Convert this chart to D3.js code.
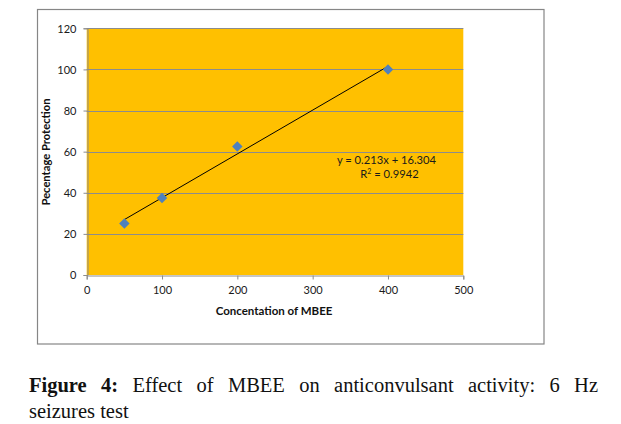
<!DOCTYPE html>
<html>
<head>
<meta charset="utf-8">
<script src="https://cdn.jsdelivr.net/npm/d3@7"></script>
<style>
  html, body { margin: 0; padding: 0; background: #fff; }
  #wrap { position: relative; width: 621px; height: 424px; }
  svg { position: absolute; left: 0; top: 0; }
  .cap {
    position: absolute; left: 29px; width: 569px;
    font-family: "Liberation Serif", "DejaVu Serif", serif;
    font-size: 20.5px; line-height: 20px; color: #111; white-space: nowrap;
  }
  #cap1 { top: 375px; text-align: justify; text-align-last: justify; }
  #cap2 { top: 400.5px; text-align: left; }
</style>
</head>
<body>
<div id="wrap">
  <svg id="chart" width="621" height="424"></svg>
  <div class="cap" id="cap1"><b>Figure 4:</b> Effect of MBEE on anticonvulsant activity: 6 Hz</div>
  <div class="cap" id="cap2">seizures test</div>
</div>
<script>
// Data
const concentrations = [50, 100, 200, 400];
const protection = [25, 37.5, 62.5, 100];
const xTicks = [0, 100, 200, 300, 400, 500];
const yTicks = [0, 20, 40, 60, 80, 100, 120];
const trendSlope = 0.213;
const trendIntercept = 16.304;
const equationLabel = "y = 0.213x + 16.304";
const r2Value = "0.9942";
const xTitle = "Concentation of MBEE";
const yTitle = "Pecentage Protection";

const svg = d3.select("#chart");
const font = "Lato, 'Open Sans', sans-serif";

// outer chart frame
svg.append("rect")
  .attr("x", 37.5).attr("y", 9.5)
  .attr("width", 506.5).attr("height", 334.5)
  .attr("fill", "#fff").attr("stroke", "#868686").attr("stroke-width", 1.2);

const plot = { left: 86.7, right: 463.3, top: 28.3, bottom: 275 };
const x = d3.scaleLinear().domain([0, 500]).range([plot.left, plot.right]);
const y = d3.scaleLinear().domain([0, 120]).range([plot.bottom, plot.top]);

// plot background
svg.append("rect")
  .attr("x", plot.left).attr("y", plot.top)
  .attr("width", plot.right - plot.left).attr("height", plot.bottom - plot.top)
  .attr("fill", "#FFC000");

// gridlines
svg.append("g").selectAll("line")
  .data(yTicks.filter(d => d > 0))
  .join("line")
  .attr("x1", plot.left).attr("x2", plot.right)
  .attr("y1", d => Math.round(y(d)) + 0.5).attr("y2", d => Math.round(y(d)) + 0.5)
  .attr("stroke", "#8c8c8c").attr("stroke-width", 1);

// axes
const xAxis = svg.append("g")
  .attr("transform", `translate(0,${Math.round(plot.bottom) + 0.5})`)
  .call(d3.axisBottom(x).tickValues(xTicks).tickSize(4).tickPadding(7).tickFormat(d3.format("d")));
const yAxis = svg.append("g")
  .attr("transform", `translate(${Math.round(plot.left) + 0.5},0)`)
  .call(d3.axisLeft(y).tickValues(yTicks).tickSize(4).tickPadding(7).tickFormat(d3.format("d")));

[xAxis, yAxis].forEach(a => {
  a.select(".domain").attr("stroke", "#8c8c8c");
  a.selectAll(".tick line").attr("stroke", "#8c8c8c");
  a.selectAll(".tick text").attr("fill", "#1a1a1a")
    .style("font-family", font).style("font-size", "11px");
});
yAxis.selectAll(".tick text").attr("dy", "0.36em");

// trendline
const xr = d3.extent(concentrations);
svg.append("line")
  .attr("x1", x(xr[0])).attr("y1", y(trendSlope * xr[0] + trendIntercept))
  .attr("x2", x(xr[1])).attr("y2", y(trendSlope * xr[1] + trendIntercept))
  .attr("stroke", "#000").attr("stroke-width", 1);

// markers
svg.append("g").selectAll("path")
  .data(concentrations.map((c, i) => [c, protection[i]]))
  .join("path")
  .attr("d", d3.symbol().type(d3.symbolDiamond2).size(70))
  .attr("transform", d => `translate(${x(d[0])},${y(d[1])})`)
  .attr("fill", "#4F81BD");

// equation labels
svg.append("text")
  .attr("x", 386.5).attr("y", 163.5)
  .attr("text-anchor", "middle")
  .style("font-family", font).style("font-size", "11.2px").attr("fill", "#1a1a1a")
  .text(equationLabel);
const r2 = svg.append("text")
  .attr("x", 389.5).attr("y", 177.5)
  .attr("text-anchor", "middle")
  .style("font-family", font).style("font-size", "11.2px").attr("fill", "#1a1a1a");
r2.append("tspan").text("R");
r2.append("tspan").attr("dy", -4).style("font-size", "7px").text("2");
r2.append("tspan").attr("dy", 4).text(" = " + r2Value);

// axis titles
svg.append("text")
  .attr("x", 274).attr("y", 314.5)
  .attr("text-anchor", "middle")
  .style("font-family", font).style("font-size", "11.5px").style("font-weight", "bold")
  .attr("fill", "#111")
  .text(xTitle);
svg.append("text")
  .attr("transform", "translate(49.5,152) rotate(-90)")
  .attr("text-anchor", "middle")
  .style("font-family", font).style("font-size", "11.2px").style("font-weight", "bold")
  .attr("fill", "#111")
  .text(yTitle);
</script>
</body>
</html>
